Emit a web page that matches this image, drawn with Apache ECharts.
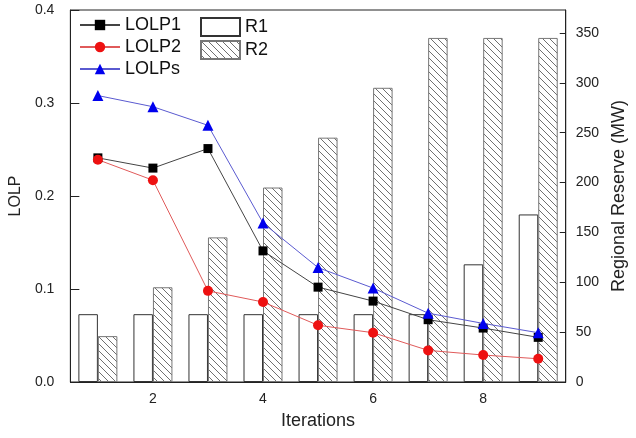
<!DOCTYPE html>
<html><head><meta charset="utf-8">
<script src="https://cdn.jsdelivr.net/npm/echarts@6/dist/echarts.min.js"></script>
<style>html,body{margin:0;padding:0;background:#fff}#c{width:636px;height:438px}</style>
</head><body><div id="c"></div>
<script>
var iterations = ['1','2','3','4','5','6','7','8','9'];
var LOLP1 = [0.241, 0.230, 0.251, 0.141, 0.102, 0.087, 0.067, 0.058, 0.048];
var LOLP2 = [0.239, 0.217, 0.098, 0.086, 0.061, 0.053, 0.034, 0.029, 0.025];
var LOLPs = [0.308, 0.296, 0.276, 0.171, 0.123, 0.101, 0.074, 0.063, 0.053];
var R1 = [68, 68, 68, 68, 68, 68, 68, 118, 168];
var R2 = [46, 95, 145, 195, 245, 295, 345, 345, 345];

function hatch() {
  var s = 7, c = document.createElement('canvas');
  c.width = s; c.height = s;
  var g = c.getContext('2d');
  g.fillStyle = '#fff'; g.fillRect(0, 0, s, s);
  g.strokeStyle = '#707070'; g.lineWidth = 1;
  g.beginPath();
  g.moveTo(-1, -1); g.lineTo(s + 1, s + 1);
  g.moveTo(-s - 1, -1); g.lineTo(1, s + 1);
  g.moveTo(s - 1, -1); g.lineTo(2 * s + 1, s + 1);
  g.stroke();
  return c;
}
var font = 'Liberation Sans, Arial, sans-serif';
var chart = echarts.init(document.getElementById('c'));
chart.setOption({
  animation: false,
  grid: {left: 69, right: 66, top: 10, bottom: 56, show: true, borderColor: '#222', borderWidth: 1},
  legend: [
    {data: ['LOLP1', 'LOLP2', 'LOLPs'], orient: 'vertical', left: 79, top: 16, padding: 0,
     itemWidth: 40, itemHeight: 13, itemGap: 4,
     textStyle: {fontFamily: font, fontSize: 18, lineHeight: 18, color: '#111'}},
    {data: ['R1', 'R2'], orient: 'vertical', left: 200, top: 17, padding: 0, icon: 'rect',
     itemWidth: 39, itemHeight: 18, itemGap: 3,
     textStyle: {fontFamily: font, fontSize: 18, color: '#111'}}
  ],
  xAxis: {
    type: 'category', data: iterations, boundaryGap: true,
    name: 'Iterations', nameLocation: 'middle', nameGap: 30,
    nameTextStyle: {fontFamily: font, fontSize: 18, color: '#222'},
    axisLine: {lineStyle: {color: '#222'}},
    axisTick: {show: true, inside: true, length: 5, alignWithLabel: true,
               interval: function (i) { return i % 2 === 1; }, lineStyle: {color: '#222'}},
    axisLabel: {interval: function (i) { return i % 2 === 1; }, fontFamily: font, fontSize: 14, color: '#222', margin: 10},
    splitLine: {show: false}
  },
  yAxis: [
    {type: 'value', min: 0, max: 0.4, interval: 0.1,
     name: 'LOLP', nameLocation: 'middle', nameGap: 38,
     nameTextStyle: {fontFamily: font, fontSize: 16, color: '#222'},
     axisLine: {show: true, lineStyle: {color: '#222'}},
     axisTick: {show: true, inside: true, length: 9, lineStyle: {color: '#222'}},
     axisLabel: {fontFamily: font, fontSize: 14, color: '#222', margin: 16,
                 formatter: function (v) { return v.toFixed(1); }},
     splitLine: {show: false}},
    {type: 'value', min: 0, max: 373, interval: 50, position: 'right',
     name: 'Regional Reserve (MW)', nameLocation: 'middle', nameGap: 40, nameRotate: 90,
     nameTextStyle: {fontFamily: font, fontSize: 18, color: '#222'},
     axisLine: {show: true, lineStyle: {color: '#222'}},
     axisTick: {show: true, inside: true, length: 6, lineStyle: {color: '#222'}},
     axisLabel: {fontFamily: font, fontSize: 14, color: '#222', margin: 10, showMaxLabel: false},
     splitLine: {show: false}}
  ],
  series: [
    {name: 'R1', type: 'bar', yAxisIndex: 1, data: R1, barWidth: 19.5, barGap: '0%',
     itemStyle: {color: '#fff', borderColor: '#333', borderWidth: 1}, z: 1},
    {name: 'R2', type: 'bar', yAxisIndex: 1, data: R2, barWidth: 19.5, barGap: '0%',
     itemStyle: {color: {image: hatch(), repeat: 'repeat'}, borderColor: '#777', borderWidth: 1}, z: 1},
    {name: 'LOLP1', type: 'line', data: LOLP1, symbol: 'rect', symbolSize: 9,
     itemStyle: {color: '#000'}, lineStyle: {color: '#444', width: 1}, z: 5},
    {name: 'LOLP2', type: 'line', data: LOLP2, symbol: 'circle', symbolSize: 10,
     itemStyle: {color: '#ee1111'}, lineStyle: {color: '#e05a5a', width: 1}, z: 5},
    {name: 'LOLPs', type: 'line', data: LOLPs, symbol: 'triangle', symbolSize: 11,
     itemStyle: {color: '#0000ee'}, lineStyle: {color: '#5a5ad0', width: 1}, z: 6}
  ]
});
</script></body></html>
